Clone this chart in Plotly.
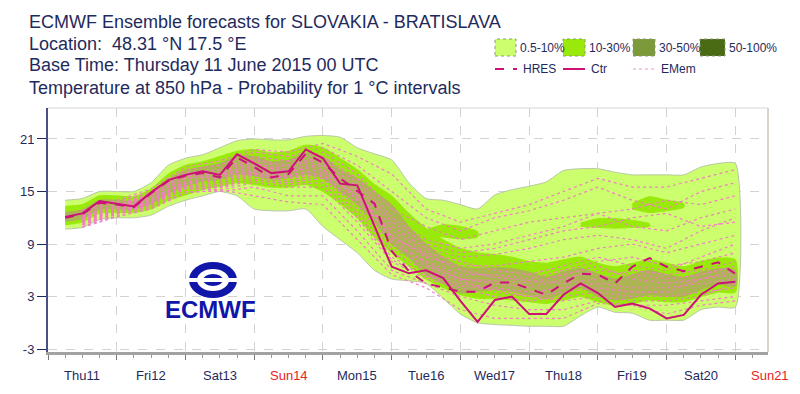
import plotly.graph_objects as go

# ---------------- data ----------------
hours = [6, 12, 18, 24, 30, 36, 42, 48, 54, 60, 66, 72, 78, 84, 90, 96, 102, 108, 114, 120,
         126, 132, 138, 144, 150, 156, 162, 168, 174, 180, 186, 192, 198, 204, 210, 216, 222, 228, 234, 240]

ctr = [12.1, 12.5, 13.9, 13.6, 13.3, 14.9, 16.3, 16.9, 17.3, 16.9, 19.25, 18.2, 17.1, 17.3, 19.8, 18.8, 15.9, 15.7, 11.0, 6.4,
       5.65, 6.0, 5.1, 2.5, 0.1, 2.6, 3.0, 1.0, 1.0, 3.2, 4.5, 3.4, 1.8, 2.2, 1.65, 0.5, 0.9, 3.2, 4.5, 4.7]

hres = [12.0, 12.4, 13.7, 13.5, 13.2, 14.8, 16.2, 16.8, 17.1, 16.6, 18.9, 17.8, 16.6, 17.0, 19.3, 18.3, 16.5, 15.0, 13.6, 8.2,
        5.9, 4.5, 4.0, 3.55, 3.55, 4.6, 4.6, 3.9, 3.2, 4.5, 5.6, 5.5, 4.5, 6.4, 7.4, 6.4, 5.9, 6.4, 6.9, 5.6]

# 0.5-10 % envelope
env_hi = [14.0, 14.2, 15.0, 15.0, 15.0, 16.0, 18.0, 18.8, 19.2, 20.0, 20.8, 21.0, 20.9, 20.9, 21.3, 21.4, 21.2, 20.0, 19.3, 18.6,
          16.0, 14.2, 14.0, 13.5, 13.0, 14.6, 15.2, 15.6, 16.1, 17.4, 17.6, 17.6, 17.2, 16.9, 16.9, 16.9, 16.9, 17.8, 18.2, 18.2]
env_lo = [10.7, 10.9, 11.8, 12.0, 12.0, 12.3, 13.3, 14.0, 14.5, 15.0, 14.5, 13.0, 12.8, 12.8, 13.0, 11.0, 9.5, 8.0, 6.0, 5.0,
          4.8, 4.5, 2.8, 1.0, 0.0, -0.2, -0.3, -0.4, -0.4, -0.4, 0.8, 1.8, 1.2, 1.1, 0.3, 0.3, 0.3, 1.5, 1.8, 1.8]

# 10-30 % band
b10_hi = [13.3, 13.5, 14.5, 14.5, 14.4, 15.3, 17.0, 18.0, 18.4, 19.0, 19.6, 19.8, 19.4, 19.6, 20.3, 20.0, 18.8, 17.5, 15.8, 14.5,
          12.5, 10.8, 9.5, 8.5, 8.0, 7.8, 7.5, 7.0, 6.8, 7.2, 7.5, 6.8, 6.4, 6.8, 7.2, 6.8, 6.4, 7.0, 7.4, 7.2]
b10_lo = [11.2, 11.5, 12.5, 12.6, 12.6, 13.0, 14.0, 14.6, 15.2, 15.6, 16.0, 15.8, 15.5, 15.5, 15.8, 15.0, 13.6, 12.0, 9.8, 8.0,
          6.5, 5.0, 4.0, 3.2, 2.8, 2.8, 2.6, 2.4, 2.2, 2.6, 3.0, 2.4, 2.0, 2.2, 2.6, 2.4, 2.4, 3.0, 3.5, 3.5]

# isolated 10-30 % patches
patchA_h = [204, 210, 216, 222]
patchA_hi = [13.6, 14.4, 14.0, 13.6]
patchA_lo = [13.0, 12.6, 12.8, 13.2]
patchB_h = [186, 192, 198, 204, 210]
patchB_hi = [11.4, 11.9, 11.9, 11.7, 11.3]
patchB_lo = [11.0, 10.9, 10.8, 10.9, 11.0]
patchC_h = [132, 138, 144, 150]
patchC_hi = [10.6, 11.2, 11.0, 10.4]
patchC_lo = [10.0, 9.8, 9.6, 9.8]

# 30-50 % core
core_hi = [12.6, 12.9, 14.0, 14.0, 13.9, 14.8, 16.4, 17.4, 17.8, 18.2, 19.0, 19.0, 18.4, 18.6, 19.4, 19.0, 17.5, 16.5, 15.0, 13.5,
           11.0, 9.0, 7.5, 6.4, 6.2, 6.3, 6.2, 5.8, 5.2, 5.8, 6.2, 5.6, 5.0, 5.5, 6.0, 5.5, 5.2, 5.8, 6.2, 6.0]
core_lo = [11.6, 11.9, 13.0, 13.0, 13.0, 13.6, 14.8, 15.6, 16.2, 16.4, 17.0, 16.8, 16.4, 16.6, 17.0, 16.5, 15.0, 13.5, 11.5, 9.0,
           7.5, 5.5, 4.5, 3.4, 3.6, 3.8, 3.6, 3.2, 2.8, 3.4, 4.0, 3.0, 2.6, 2.8, 3.2, 3.0, 3.0, 3.8, 4.4, 4.2]

# a selection of ensemble members (EMem), 12-hourly
mem_hours = [12, 24, 36, 48, 60, 72, 84, 96, 108, 120, 132, 144, 156, 168, 180, 192, 204, 216, 228, 240]
members = [
    [12.8, 14.0, 15.3, 17.8, 18.5, 19.8, 19.5, 20.5, 19.0, 17.0, 13.0, 11.5, 12.5, 13.5, 15.0, 16.5, 15.5, 15.5, 16.5, 17.5],
    [12.6, 13.8, 15.0, 17.5, 18.0, 19.5, 19.0, 20.0, 18.0, 15.0, 12.0, 10.5, 12.0, 12.8, 14.0, 15.5, 14.0, 13.0, 15.0, 16.0],
    [12.3, 13.5, 14.8, 17.2, 17.5, 19.0, 18.5, 19.5, 17.0, 13.0, 11.0, 9.5, 10.5, 11.5, 12.0, 12.5, 13.0, 14.0, 13.5, 14.5],
    [12.2, 13.4, 14.6, 17.0, 17.2, 18.7, 18.0, 19.0, 16.5, 12.0, 9.5, 8.5, 9.0, 10.0, 11.0, 12.5, 11.0, 10.5, 12.0, 13.0],
    [12.0, 13.2, 14.5, 16.5, 16.8, 18.2, 17.5, 18.5, 15.5, 11.0, 8.5, 7.5, 7.8, 8.5, 9.5, 10.0, 9.5, 8.5, 10.5, 12.0],
    [11.8, 13.0, 14.2, 16.2, 16.5, 17.8, 17.2, 18.0, 15.0, 10.0, 7.5, 6.5, 6.5, 7.0, 7.5, 8.5, 9.0, 8.0, 9.0, 10.0],
    [11.6, 12.8, 14.0, 16.0, 16.2, 17.3, 16.8, 17.5, 14.0, 9.0, 7.0, 5.5, 5.5, 5.0, 6.0, 7.0, 7.5, 6.5, 7.0, 8.0],
    [11.5, 12.7, 13.8, 15.7, 15.8, 17.0, 16.5, 17.0, 13.5, 8.5, 6.5, 5.0, 4.5, 4.0, 5.0, 6.0, 5.5, 5.0, 5.5, 6.5],
    [11.3, 12.5, 13.6, 15.5, 15.5, 16.5, 16.0, 16.5, 12.5, 7.5, 5.5, 4.5, 4.0, 3.5, 4.0, 4.5, 4.0, 4.0, 4.5, 5.0],
    [11.2, 12.4, 13.4, 15.3, 15.2, 16.0, 15.5, 15.5, 11.5, 7.0, 5.0, 4.0, 3.0, 2.5, 3.0, 3.5, 3.0, 3.0, 3.5, 4.0],
    [11.0, 12.2, 13.2, 15.0, 15.0, 15.5, 14.5, 14.5, 10.5, 6.0, 4.5, 3.0, 2.0, 1.5, 1.5, 2.5, 2.0, 2.0, 2.5, 3.0],
    [10.9, 12.1, 13.0, 14.8, 15.2, 14.5, 13.8, 13.5, 9.5, 5.5, 4.0, 1.5, 0.5, 0.5, 0.5, 2.2, 2.0, 1.0, 2.0, 2.5],
    [11.9, 13.1, 14.4, 16.6, 16.7, 18.0, 17.3, 18.2, 14.8, 9.5, 6.8, 5.0, 4.8, 4.5, 5.5, 6.5, 5.0, 4.5, 5.0, 6.0],
    [11.7, 12.9, 14.1, 16.1, 16.3, 17.5, 16.9, 17.6, 14.3, 9.8, 7.8, 6.0, 5.2, 4.8, 4.5, 5.0, 6.0, 5.5, 6.0, 7.0],
    [11.4, 12.6, 13.7, 15.6, 15.6, 16.8, 16.2, 16.8, 13.0, 8.0, 6.0, 4.8, 3.5, 3.0, 3.5, 4.0, 3.5, 3.5, 5.0, 5.5],
    [12.1, 13.3, 14.7, 16.8, 17.0, 18.5, 17.8, 18.8, 16.0, 11.5, 9.0, 8.0, 8.5, 9.5, 10.5, 11.0, 12.0, 12.5, 11.0, 11.5],
    [11.6, 12.8, 13.9, 15.9, 16.0, 17.1, 16.6, 17.2, 14.5, 10.5, 8.0, 7.0, 6.0, 5.5, 6.5, 7.5, 6.5, 6.0, 7.5, 9.0],
    [11.2, 12.4, 13.5, 15.4, 15.4, 16.3, 15.8, 16.0, 12.0, 7.2, 5.3, 4.2, 3.8, 3.0, 2.5, 3.0, 2.5, 2.5, 3.0, 4.5],
]

day_hours = [0, 24, 48, 72, 96, 120, 144, 168, 192, 216, 240]
day_labels = ["Thu11", "Fri12", "Sat13", "Sun14", "Mon15", "Tue16", "Wed17", "Thu18", "Fri19", "Sat20", "Sun21"]
weekend = ["Sun14", "Sun21"]
y_ticks = [-3, 3, 9, 15, 21]
y_ticktext = ["-3", "3", "9", "15", "21"]

legend_classes = ["0.5-10%", "10-30%", "30-50%", "50-100%"]
legend_lines = ["HRES", "Ctr", "EMem"]

# ---------------- style ----------------
# the page body adds an 8px margin, so the figure is sized to fit the 800x394 window
OFF = 8
W, H = 800 - OFF, 394 - OFF
L, R, T, B = 40, 32, 100, 42
X_MAX = 251.4
NAVY = "#1f2a5c"
FONT = "Liberation Sans, Arial, Helvetica, sans-serif"
C_LIGHT = "#ccff6e"
C_MID = "#99ea0a"
C_OLIVE = "#7d9a3a"
C_DARK = "#4b6a14"
C_LINE = "#cc1177"
C_MEM = "#f27ec3"


def px(x):  # screen pixel -> paper x
    return (x - OFF - L) / (W - L - R)


def py(y):  # screen pixel -> paper y
    return (H - B - (y - OFF)) / (H - T - B)


def band(xs, hi, lo, color, border=None):
    return go.Scatter(x=list(xs) + list(xs)[::-1], y=list(hi) + list(lo)[::-1],
                      fill="toself", fillcolor=color, mode="lines",
                      line=dict(color=border or color, width=1, shape="spline", smoothing=0.6),
                      hoverinfo="skip", showlegend=False)


fig = go.Figure()
fig.add_trace(band(hours, env_hi, env_lo, C_LIGHT, "#b9c6a4"))
fig.add_trace(band(hours, b10_hi, b10_lo, C_MID))
for ph, phi, plo in [(patchA_h, patchA_hi, patchA_lo), (patchB_h, patchB_hi, patchB_lo), (patchC_h, patchC_hi, patchC_lo)]:
    fig.add_trace(band(ph, phi, plo, C_MID))
fig.add_trace(band(hours, core_hi, core_lo, "rgba(176,170,96,0.85)"))

for m in members:
    fig.add_trace(go.Scatter(x=mem_hours, y=m, mode="lines",
                             line=dict(color=C_MEM, width=1.2, dash="dot"),
                             hoverinfo="skip", showlegend=False))

fig.add_trace(go.Scatter(x=hours, y=hres, mode="lines", line=dict(color=C_LINE, width=2, dash="dash"),
                         showlegend=False))
fig.add_trace(go.Scatter(x=hours, y=ctr, mode="lines", line=dict(color=C_LINE, width=2),
                         showlegend=False))

annotations = []
shapes = []

# titles
titles = [("ECMWF Ensemble forecasts for SLOVAKIA - BRATISLAVA", 22),
          ("Location:  48.31 °N 17.5 °E", 44),
          ("Base Time: Thursday 11 June 2015 00 UTC", 65),
          ("Temperature at 850 hPa - Probability for 1 °C intervals", 88)]
for txt, yy in titles:
    annotations.append(dict(text=txt, xref="paper", yref="paper", x=px(27), y=py(yy),
                            xanchor="left", yanchor="middle", showarrow=False,
                            font=dict(family=FONT, size=18, color=NAVY)))

# day labels, centred at noon of each day (Sun21 lies just past the axis end)
for h, lab in zip(day_hours, day_labels):
    annotations.append(dict(text=lab, xref="paper", yref="paper", x=(h + 12) / X_MAX, y=py(375),
                            xanchor="center", yanchor="middle", showarrow=False,
                            font=dict(family=FONT, size=13, color="#e8231c" if lab in weekend else NAVY)))

# legend (manual, to mirror the original layout)
box_x = [(495, 516), (563, 585), (633, 655), (700, 725)]
box_c = [C_LIGHT, C_MID, C_OLIVE, C_DARK]
for (x0, x1), c, lab in zip(box_x, box_c, legend_classes):
    shapes.append(dict(type="rect", xref="paper", yref="paper", x0=px(x0), x1=px(x1), y0=py(56), y1=py(39),
                       fillcolor=c, line=dict(color="#8c9a78", width=1, dash="dot")))
    annotations.append(dict(text=lab, xref="paper", yref="paper", x=px(x1 + 2), y=py(48),
                            xanchor="left", yanchor="middle", showarrow=False,
                            font=dict(family=FONT, size=12, color=NAVY)))
line_x = [(495, 517), (563, 585), (633, 655)]
line_sty = [dict(color=C_LINE, width=2, dash="dash"), dict(color=C_LINE, width=2),
            dict(color="#f6b8dc", width=1.5, dash="dot")]
for (x0, x1), st, lab in zip(line_x, line_sty, legend_lines):
    shapes.append(dict(type="line", xref="paper", yref="paper", x0=px(x0), x1=px(x1), y0=py(69), y1=py(69),
                       line=st))
    annotations.append(dict(text=lab, xref="paper", yref="paper", x=px(x1 + 4), y=py(69),
                            xanchor="left", yanchor="middle", showarrow=False,
                            font=dict(family=FONT, size=12, color=NAVY)))

# plot frame (top / right)
shapes.append(dict(type="line", xref="paper", yref="paper", x0=0, x1=1, y0=1, y1=1,
                   line=dict(color="#d6d6d6", width=1)))
shapes.append(dict(type="line", xref="paper", yref="paper", x0=1, x1=1, y0=0, y1=1,
                   line=dict(color="#d9d3ca", width=2)))

# ECMWF logo
shapes.append(dict(type="circle", xref="paper", yref="paper", x0=px(189), x1=px(237), y0=py(298), y1=py(262),
                   fillcolor="#1016a8", line=dict(width=0)))
shapes.append(dict(type="circle", xref="paper", yref="paper", x0=px(197), x1=px(229), y0=py(291), y1=py(269),
                   fillcolor="white", line=dict(width=0)))
shapes.append(dict(type="circle", xref="paper", yref="paper", x0=px(203), x1=px(223), y0=py(286), y1=py(274),
                   fillcolor="#1016a8", line=dict(width=0)))
shapes.append(dict(type="rect", xref="paper", yref="paper", x0=px(186), x1=px(240), y0=py(282), y1=py(278),
                   fillcolor="white", line=dict(width=0)))
annotations.append(dict(text="<b>ECMWF</b>", xref="paper", yref="paper", x=px(210), y=py(309),
                        xanchor="center", yanchor="middle", showarrow=False,
                        font=dict(family=FONT, size=24, color="#1016a8")))

fig.update_layout(
    width=W, height=H, margin=dict(l=L, r=R, t=T, b=B),
    paper_bgcolor="white", plot_bgcolor="white",
    showlegend=False, annotations=annotations, shapes=shapes,
    xaxis=dict(range=[0, X_MAX], tickvals=day_hours, showticklabels=False,
               ticks="outside", ticklen=5, tickcolor="#777777", tickwidth=1,
               minor=dict(dtick=6, ticks="outside", ticklen=3, tickcolor="#999999", showgrid=False),
               showgrid=True, gridcolor="#d2d2d2", griddash="dash", gridwidth=1,
               showline=True, linecolor="#a2a2a2", linewidth=3, zeroline=False, fixedrange=True),
    yaxis=dict(range=[-3.34, 24.54], tickvals=y_ticks, ticktext=y_ticktext, ticks="outside", ticklen=9,
               tickcolor=NAVY, tickwidth=1, tickfont=dict(family=FONT, size=13, color=NAVY),
               showgrid=True, gridcolor="#d2d2d2", griddash="dash", gridwidth=1,
               showline=True, linecolor="#4a4f86", linewidth=2, zeroline=False, fixedrange=True),
)

fig.write_html("out.html")
